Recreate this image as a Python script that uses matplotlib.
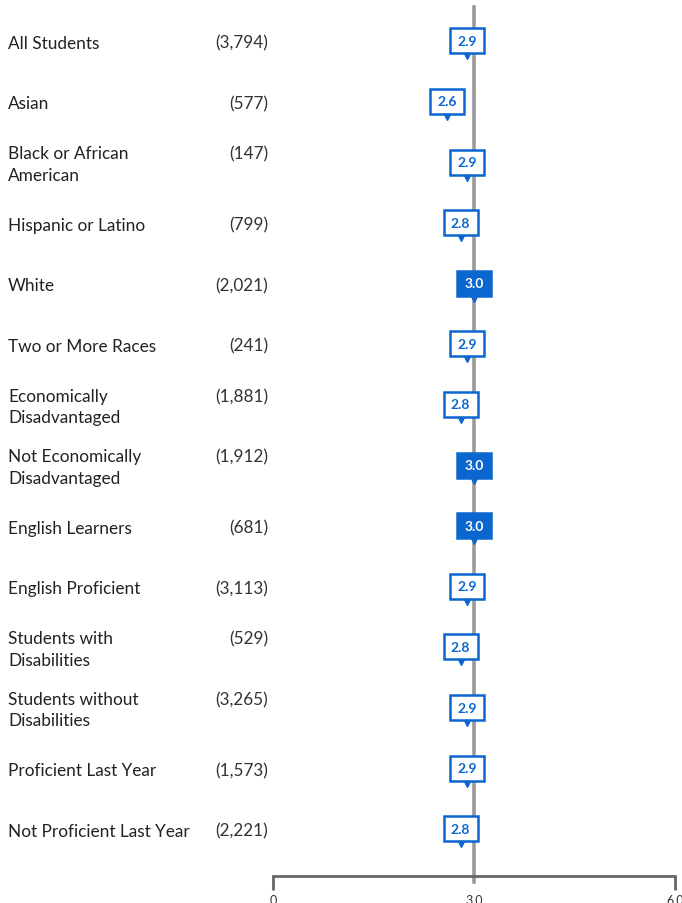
import matplotlib
matplotlib.use("Agg")
import matplotlib.pyplot as plt
from matplotlib.patches import Rectangle

plt.rcParams['font.family'] = ['Lato', 'DejaVu Sans']

groups = ["All Students", "Asian", "Black or African\nAmerican", "Hispanic or Latino",
          "White", "Two or More Races", "Economically\nDisadvantaged",
          "Not Economically\nDisadvantaged", "English Learners", "English Proficient",
          "Students with\nDisabilities", "Students without\nDisabilities",
          "Proficient Last Year", "Not Proficient Last Year"]
counts = ["(3,794)", "(577)", "(147)", "(799)", "(2,021)", "(241)", "(1,881)",
          "(1,912)", "(681)", "(3,113)", "(529)", "(3,265)", "(1,573)", "(2,221)"]
scores = [2.9, 2.6, 2.9, 2.8, 3.0, 2.9, 2.8, 3.0, 3.0, 2.9, 2.8, 2.9, 2.9, 2.8]
reference = 3.0
xticks = [0, 3.0, 6.0]
xticklabels = ["0", "3.0", "6.0"]

blue = "#0b66d0"
W, H = 682, 904
fig = plt.figure(figsize=(W / 100, H / 100), dpi=100)
ax = fig.add_axes([273 / W, (H - 877) / H, (675 - 273) / W, 877 / H])
ax.set_xlim(0, 6)
ax.set_ylim(13.78, -0.69)

# reference line
ax.axvline(reference, ymin=-6 / 877, ymax=1 - 8 / 877, color="#9a9a9a", lw=2.6,
           zorder=1, clip_on=False)

px_x = 402 / 6.0          # pixels per score unit
px_y = 60.6               # pixels per row
bw, bh = 34 / px_x, 25 / px_y
for i, (v, g, c) in enumerate(zip(scores, groups, counts)):
    filled = v >= reference
    ax.add_patch(Rectangle((v - bw / 2, i - 0.5 * bh), bw, bh,
                           facecolor=blue if filled else "white",
                           edgecolor=blue, lw=1.8, zorder=3))
    ax.plot([v], [i + 0.5 * bh + 3 / px_y], marker="v", ms=5, color=blue,
            mec=blue, zorder=4, clip_on=False)
    ax.text(v, i, f"{v:.1f}", ha="center", va="center", fontsize=10,
            fontweight="bold", color="white" if filled else blue, zorder=5)
    nlines = g.count("\n") + 1
    ax.text(-265 / px_x, i + 2 / px_y, g, ha="left", va="center", fontsize=12.4,
            color="#222222", linespacing=1.45, clip_on=False)
    ty = i + 2 / px_y - (nlines - 1) * 10.5 / px_y
    ax.text(-5 / px_x, ty, c, ha="right", va="center", fontsize=12.3,
            color="#333333", clip_on=False)

for s in ["top", "right", "left"]:
    ax.spines[s].set_visible(False)
ax.spines["bottom"].set_color("#666666")
ax.spines["bottom"].set_linewidth(2)
ax.set_yticks([])
ax.set_xticks(xticks)
ax.set_xticklabels(xticklabels, fontsize=9, color="#333333")
ax.tick_params(axis="x", length=10, width=2, color="#666666", pad=3)
ax.get_xticklines()[2].set_visible(False)

fig.savefig("out.png", dpi=100)
